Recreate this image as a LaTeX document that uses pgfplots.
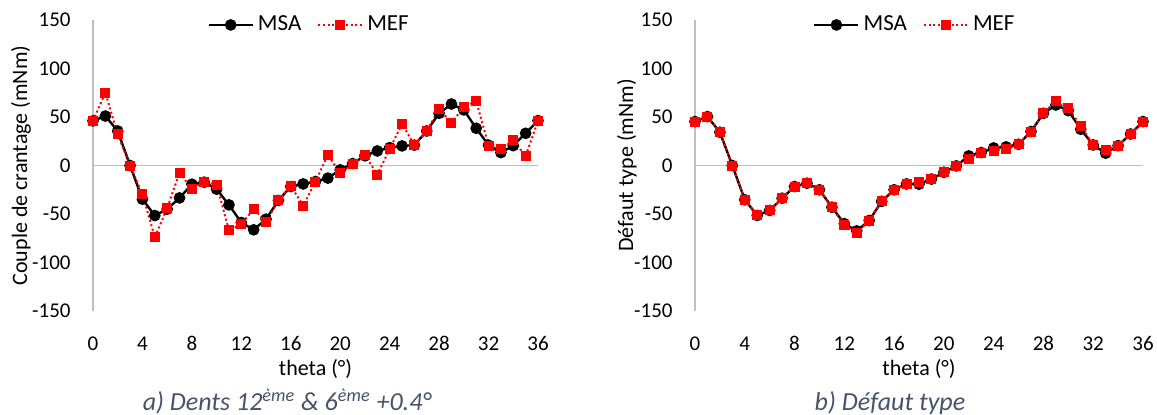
\documentclass[border=0pt]{standalone}
\usepackage{pgfplots}
\pgfplotsset{compat=1.18}
\usepackage{fontspec}
\setmainfont{Carlito}
\definecolor{axgray}{RGB}{191,191,191}
\definecolor{captc}{RGB}{68,84,106}
\definecolor{mefred}{RGB}{255,0,0}
\pgfplotsset{
  myaxis/.style={
    scale only axis, height=145.5pt,
    xmin=0, xmax=36, ymin=-150, ymax=150,
    xtick={0,4,...,36}, ytick={-150,-100,...,150},
    axis line style={draw=none},
    major tick length=0pt,
    clip=false,
    /pgf/number format/assume math mode=true,
    tick label style={font=\fontsize{10.5}{12}\selectfont},
    xticklabel style={anchor=base, yshift=-19.5pt},
    yticklabel style={anchor=east, inner sep=0pt, xshift=-11pt},
    extra x ticks={0}, extra x tick labels={},
    extra y ticks={0}, extra y tick labels={},
    extra tick style={grid=major, major grid style={axgray, line width=0.7pt}},
    label style={font=\fontsize{11}{13}\selectfont},
    xlabel={theta (°)},
    xlabel style={at={(axis description cs:0.5,-0.222)}, anchor=base},
    legend columns=2,
    legend style={draw=none, fill=none, font=\fontsize{11.5}{13}\selectfont,
      anchor=center, /tikz/every even column/.append style={column sep=6pt}},
    legend image code/.code={%
      \draw[mark repeat=2,mark phase=2,#1] plot coordinates {(0pt,0pt) (11pt,0pt) (22pt,0pt)};},
  },
  msa/.style={black, line width=1.2pt, mark=*, mark size=2.3pt, mark options={solid, fill=black}},
  mef/.style={mefred, line width=1pt, dash pattern=on 1pt off 1.3pt, mark=square*, mark size=2pt, mark options={solid, fill=mefred}},
}
\begin{document}
\begin{tikzpicture}[x=1pt,y=1pt]
\path[use as bounding box] (0,0) rectangle (578.5,207);
\begin{axis}[myaxis, at={(46.5pt,51.5pt)}, anchor=south west, width=222.5pt,
  ylabel={Couple de crantage (mNm)},
  ylabel style={at={(axis description cs:-0.148,0.5)}, anchor=base},
  legend style={at={(axis description cs:0.488,0.983)}}]
\addplot[msa] coordinates {
(0,46) (1,51) (2,35.6) (3,0) (4,-34.7) (5,-51.6) (6,-45) (7,-33.4) (8,-19.3) (9,-17.2)
(10,-24.4) (11,-40.6) (12,-58.8) (13,-66.3) (14,-55.3) (15,-36) (16,-21.7) (17,-19) (18,-16.5) (19,-13)
(20,-4.5) (21,2) (22,10) (23,15) (24,18.4) (25,20.2) (26,21) (27,35.6) (28,53.8) (29,63.4)
(30,57.3) (31,38.4) (32,21) (33,13.3) (34,20.5) (35,33.2) (36,46.3)};
\addplot[mef] coordinates {
(0,46) (1,75) (2,32) (3,0) (4,-29.6) (5,-73.9) (6,-44) (7,-7.3) (8,-24.4) (9,-17)
(10,-19.6) (11,-66.7) (12,-60.5) (13,-45) (14,-58) (15,-36) (16,-20.7) (17,-41.6) (18,-16.5) (19,11)
(20,-8) (21,1.6) (22,10.6) (23,-9.3) (24,17) (25,42.8) (26,21.2) (27,35.6) (28,58) (29,44.2)
(30,60) (31,66.5) (32,20.5) (33,17) (34,26) (35,9.9) (36,46)};
\legend{MSA,MEF}
\end{axis}
\begin{axis}[myaxis, at={(347.5pt,51.5pt)}, anchor=south west, width=224pt,
  ylabel={Défaut type (mNm)},
  ylabel style={at={(axis description cs:-0.138,0.5)}, anchor=base},
  legend style={at={(axis description cs:0.493,0.983)}}]
\addplot[msa] coordinates {
(0,45.3) (1,50.4) (2,34.3) (3,0) (4,-35.3) (5,-51.5) (6,-46.3) (7,-33.7) (8,-21.7) (9,-18.3)
(10,-25) (11,-43) (12,-60) (13,-67.4) (14,-56.7) (15,-37) (16,-25) (17,-19) (18,-19.3) (19,-14)
(20,-7) (21,-0.4) (22,9.9) (23,13.3) (24,18.1) (25,19.2) (26,21.9) (27,35) (28,53.8) (29,62.4)
(30,56.6) (31,37.4) (32,21.2) (33,12.7) (34,20.5) (35,32.5) (36,45.3)};
\addplot[mef] coordinates {
(0,45.3) (1,50.4) (2,34.3) (3,0) (4,-35.3) (5,-51.5) (6,-45.5) (7,-33.7) (8,-21.7) (9,-18.3)
(10,-25) (11,-43) (12,-61.8) (13,-69.7) (14,-56.7) (15,-37) (16,-25) (17,-19) (18,-17.2) (19,-14)
(20,-7) (21,-0.4) (22,6.5) (23,13.3) (24,15.4) (25,17.1) (26,21.9) (27,35) (28,53.8) (29,66.8)
(30,59) (31,40.8) (32,21.2) (33,16) (34,20.5) (35,32.5) (36,45.3)};
\legend{MSA,MEF}
\end{axis}
\node[captc, font=\itshape\fontsize{13}{15}\selectfont, anchor=base] at (143.5,1.75)
  {a) Dents 12\textsuperscript{ème} \& 6\textsuperscript{ème} +0.4°};
\node[captc, font=\itshape\fontsize{13}{15}\selectfont, anchor=base] at (445,1.75)
  {b) Défaut type};
\end{tikzpicture}
\end{document}
